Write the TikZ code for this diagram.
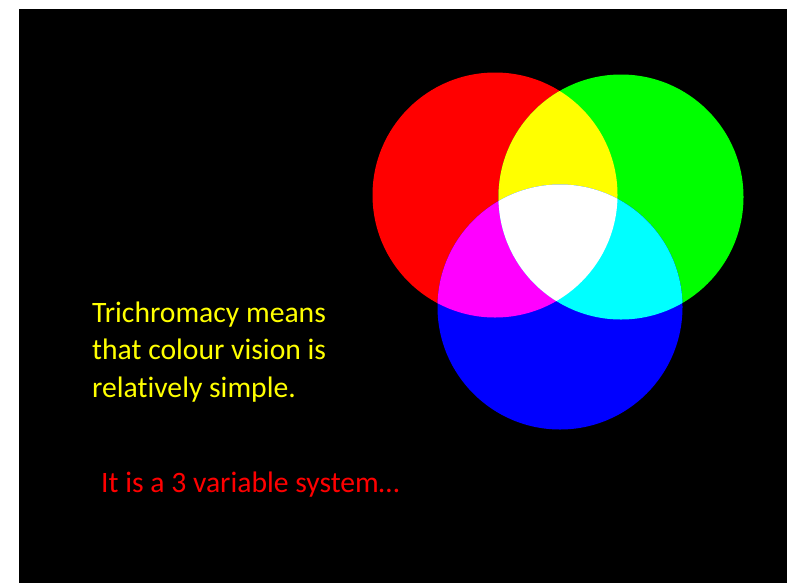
\documentclass[tikz,border=0pt]{standalone}
\usepackage{fontspec}
\setmainfont{Carlito}[Ligatures=NoCommon]
\definecolor{lampred}{RGB}{255,0,0}
\definecolor{lampgreen}{RGB}{0,255,0}
\definecolor{lampblue}{RGB}{0,0,255}
\definecolor{mixyellow}{RGB}{255,255,0}
\definecolor{mixmagenta}{RGB}{255,0,255}
\definecolor{mixcyan}{RGB}{0,255,255}
\begin{document}
\begin{tikzpicture}[x=0.03cm, y=-0.03cm,
    caption/.style={inner sep=0pt, font=\fontsize{25.3}{32}\selectfont}]
    % Page and slide background
    \useasboundingbox (0,0) rectangle (787,583);
    \fill[white] (0,0) rectangle (787,583);
    \fill[black] (19,9) rectangle (787,583);

    % Centres of the three lights
    \coordinate (redc) at (495,195);
    \coordinate (greenc) at (621,197);
    \coordinate (bluec) at (560,307);
    \def\rad{122.5}

    % Primary discs
    \fill[lampred] (redc) circle (\rad);
    \fill[lampgreen] (greenc) circle (\rad);
    \fill[lampblue] (bluec) circle (\rad);

    % Pairwise mixtures
    \begin{scope}
        \clip (redc) circle (\rad);
        \fill[mixyellow] (greenc) circle (\rad);
        \fill[mixmagenta] (bluec) circle (\rad);
    \end{scope}
    \begin{scope}
        \clip (greenc) circle (\rad);
        \fill[mixcyan] (bluec) circle (\rad);
    \end{scope}

    % All three together
    \begin{scope}
        \clip (redc) circle (\rad);
        \clip (greenc) circle (\rad);
        \fill[white] (bluec) circle (\rad);
    \end{scope}

    % Text (base anchor sits on the last line)
    \node[caption, text=mixyellow, align=left, anchor=base west] (note) at (92,397)
        {Trichromacy means\\that colour vision is\\relatively simple.};
    \node[caption, text=lampred, anchor=base west] (claim) at (101,492)
        {It is a 3 variable system…};
\end{tikzpicture}
\end{document}
